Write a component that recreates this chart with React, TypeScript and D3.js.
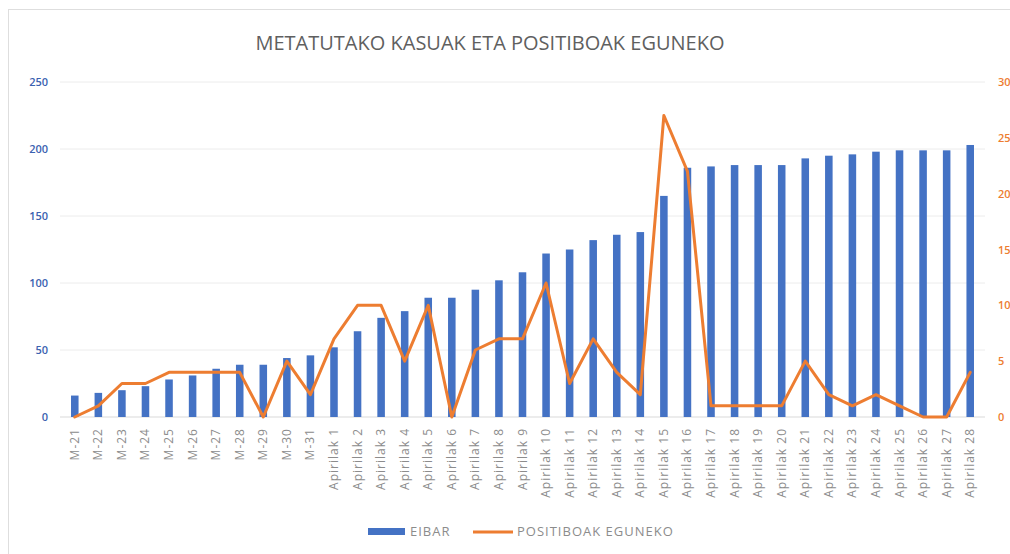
import React from "react";
import * as d3 from "d3";

// categories: March days then April days
const days = [
  "M-21", "M-22", "M-23", "M-24", "M-25", "M-26", "M-27", "M-28", "M-29", "M-30", "M-31",
  "Apirilak 1", "Apirilak 2", "Apirilak 3", "Apirilak 4", "Apirilak 5", "Apirilak 6", "Apirilak 7",
  "Apirilak 8", "Apirilak 9", "Apirilak 10", "Apirilak 11", "Apirilak 12", "Apirilak 13", "Apirilak 14",
  "Apirilak 15", "Apirilak 16", "Apirilak 17", "Apirilak 18", "Apirilak 19", "Apirilak 20", "Apirilak 21",
  "Apirilak 22", "Apirilak 23", "Apirilak 24", "Apirilak 25", "Apirilak 26", "Apirilak 27", "Apirilak 28",
];

// EIBAR - accumulated cases (left axis)
const eibar = [
  16, 18, 20, 23, 28, 31, 36, 39, 39, 44, 46,
  52, 64, 74, 79, 89, 89, 95, 102, 108, 122, 125, 132, 136, 138,
  165, 186, 187, 188, 188, 188, 193, 195, 196, 198, 199, 199, 199, 203,
];

// POSITIBOAK EGUNEKO - daily positives (right axis)
const positives = [
  0, 1, 3, 3, 4, 4, 4, 4, 0, 5, 2,
  7, 10, 10, 5, 10, 0, 6, 7, 7, 12, 3, 7, 4, 2,
  27, 22, 1, 1, 1, 1, 5, 2, 1, 2, 1, 0, 0, 4,
];

const leftTicks = [0, 50, 100, 150, 200, 250];
const rightTicks = [0, 5, 10, 15, 20, 25, 30];

const W = 1010;
const H = 554;
const BLUE = "#4472C4";
const ORANGE = "#ED7D31";
const FONT = "'Open Sans', 'Liberation Sans', sans-serif";

const App = () => {
  const plot = { left: 63, right: 982, top: 82, bottom: 417 };

  const x = d3.scaleBand<string>()
    .domain(days)
    .range([plot.left, plot.right])
    .paddingInner(0.68)
    .paddingOuter(0.34);

  const yL = d3.scaleLinear().domain([0, 250]).range([plot.bottom, plot.top]);
  const yR = d3.scaleLinear().domain([0, 30]).range([plot.bottom, plot.top]);

  const cx = (d: string) => (x(d) ?? 0) + x.bandwidth() / 2;

  const line = d3.line<number>()
    .x((_, i) => cx(days[i]))
    .y((d) => yR(d));

  return (
    <svg width={W} height={H} style={{ position: "absolute", left: 0, top: 0, background: "#fff" }}>
      {/* chart frame */}
      <rect x={8.5} y={9.5} width={W + 20} height={H + 20} fill="#fff" stroke="#dedede" />

      <text x={490} y={50} textAnchor="middle" fontFamily={FONT} fontSize={20} fill="#5f5f5f">
        METATUTAKO KASUAK ETA POSITIBOAK EGUNEKO
      </text>

      {/* gridlines */}
      {leftTicks.map((t) => (
        <line key={t} x1={plot.left - 3} x2={plot.right + 3} y1={yL(t)} y2={yL(t)}
          stroke={t === 0 ? "#d9d9d9" : "#ececec"} strokeWidth={1} />
      ))}

      {/* left axis */}
      {leftTicks.map((t) => (
        <text key={t} x={48} y={yL(t) + 4} textAnchor="end" fontFamily={FONT}
          fontSize={11} fontWeight={600} fill="#3b62b0">{t}</text>
      ))}

      {/* right axis */}
      {rightTicks.map((t) => (
        <text key={t} x={998} y={yR(t) + 4} textAnchor="start" fontFamily={FONT}
          fontSize={11} fontWeight={600} fill={ORANGE}>{t}</text>
      ))}

      {/* bars */}
      {eibar.map((v, i) => (
        <rect key={days[i]} x={x(days[i])} y={yL(v)} width={x.bandwidth()}
          height={yL(0) - yL(v)} fill={BLUE} />
      ))}

      {/* line */}
      <path d={line(positives) ?? ""} fill="none" stroke={ORANGE} strokeWidth={3}
        strokeLinejoin="round" strokeLinecap="round" />

      {/* x labels */}
      {days.map((d) => (
        <text key={d} transform={`translate(${cx(d) + 4},428) rotate(-90)`} textAnchor="end"
          fontFamily={FONT} fontSize={12} letterSpacing={1} fill="#8c8c8c">{d}</text>
      ))}

      {/* legend */}
      <rect x={368} y={528} width={37} height={7} fill={BLUE} />
      <text x={410} y={536} fontFamily={FONT} fontSize={13} letterSpacing={1} fill="#8c8c8c">EIBAR</text>
      <line x1={473} x2={513} y1={532} y2={532} stroke={ORANGE} strokeWidth={3} />
      <text x={517} y={536} fontFamily={FONT} fontSize={13} letterSpacing={1} fill="#8c8c8c">POSITIBOAK EGUNEKO</text>
    </svg>
  );
};

export default App;
